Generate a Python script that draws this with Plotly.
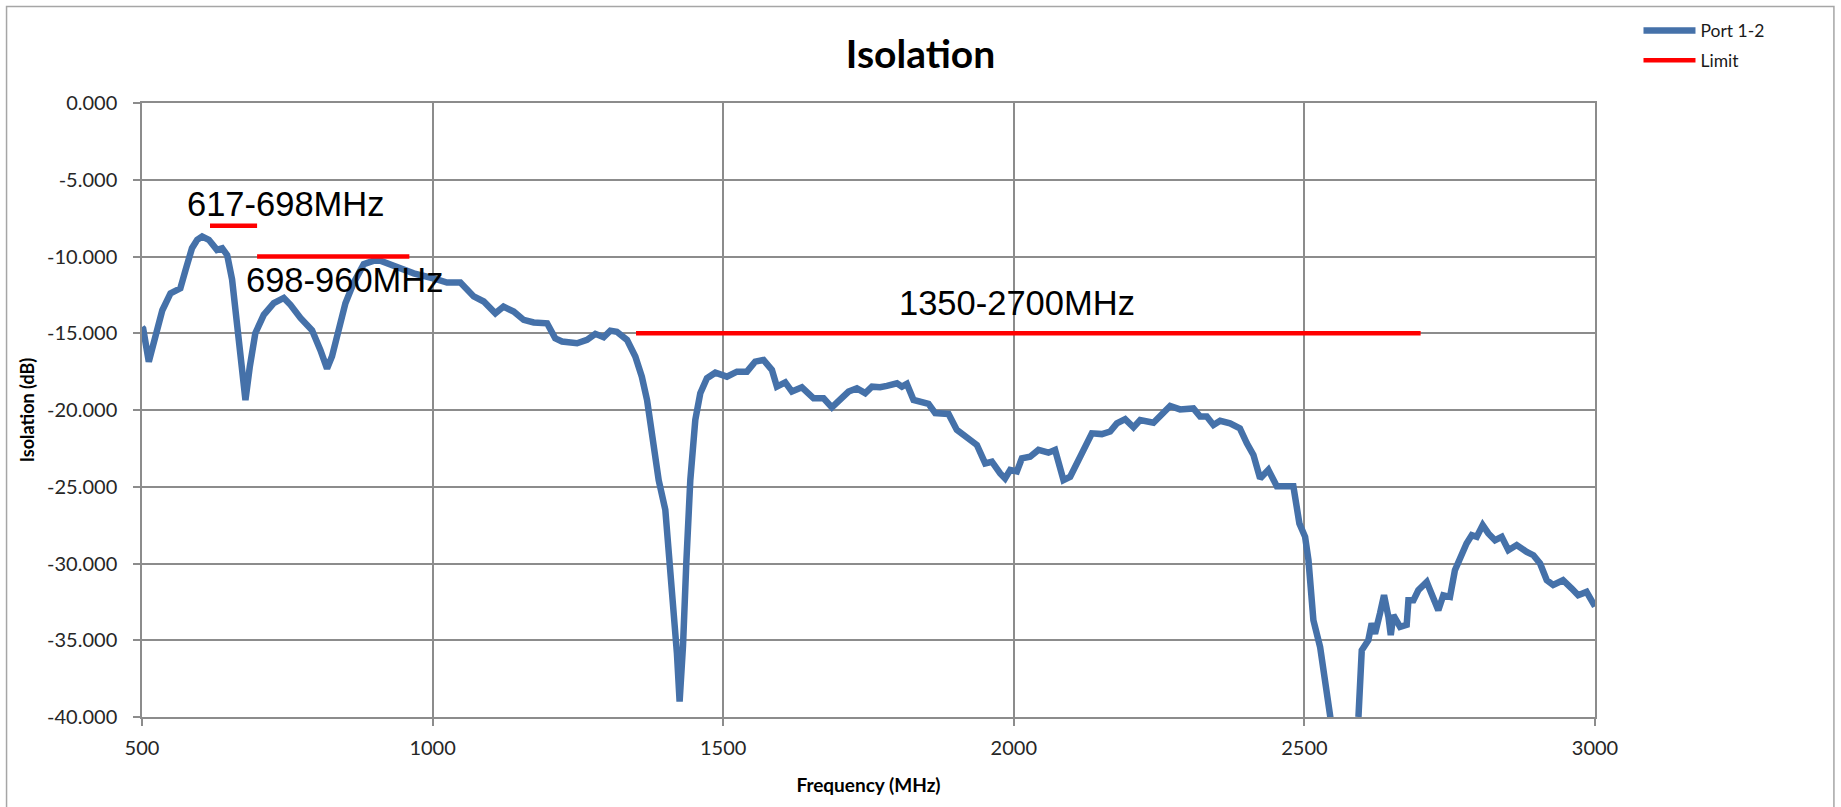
import plotly.graph_objects as go

# ---- data ----
freq_mhz = [
    500, 502, 511.7, 523, 535, 549, 566, 575, 586, 595, 603.5, 615, 629, 638, 646.5,
    655, 663.7, 670.5, 678, 685.4, 695, 709.5, 726.7, 744, 755.4, 772.6, 792.6, 807,
    818.4, 827, 838.5, 850, 864.3, 881.5, 904.4, 924.5, 944.6, 967.5, 999, 1024.8,
    1047.8, 1070.7, 1088, 1108, 1122, 1139.5, 1156.7, 1174, 1197, 1211, 1222.7, 1248.5,
    1265.7, 1280, 1294.3, 1305.8, 1317, 1334.5, 1348.8, 1360, 1369, 1377.5, 1389,
    1400.4, 1407.8, 1415.9, 1420.4, 1425, 1430.8, 1436.5, 1443.4, 1452, 1460.6, 1472,
    1486.4, 1506.4, 1523.6, 1540.8, 1555, 1569.5, 1583.8, 1592.4, 1606.8, 1618.2,
    1635.4, 1655.5, 1672.7, 1687, 1701.4, 1715.7, 1730, 1744.4, 1756, 1770, 1781.7,
    1799, 1807.5, 1816, 1827.5, 1839, 1853.3, 1864.8, 1887.7, 1902, 1919.3, 1936.5,
    1950.8, 1962.3, 1976.6, 1985, 1993.8, 2005.3, 2013.9, 2028, 2042.4, 2059.6, 2071,
    2076.8, 2085.5, 2097, 2108.5, 2120, 2134.3, 2151.5, 2165.8, 2177.3, 2191.6, 2205.9,
    2217.4, 2240.3, 2254.7, 2269, 2286, 2309, 2320.6, 2332, 2343.5, 2355, 2372, 2389,
    2401, 2412.3, 2423.8, 2438, 2452.5, 2469.7, 2481, 2491.4, 2501.2, 2507, 2515.5,
    2527, 2535.6, 2544.2, 2560, 2585, 2593, 2598.7, 2610, 2615.8, 2621.5, 2630, 2637,
    2644.6, 2648.6, 2653, 2664.6, 2676, 2679, 2687.5, 2696, 2710.5, 2722, 2730.4, 2739,
    2750.5, 2759, 2767.8, 2779, 2788, 2796.6, 2806.8, 2816.5, 2828, 2839.5, 2851,
    2865.3, 2882.5, 2894, 2905.5, 2917, 2928, 2945, 2960, 2971, 2985.5, 3000,
]
port12_db = [
    -14.6, -14.7, -16.85, -15.2, -13.5, -12.4, -12.07, -10.87, -9.46, -8.91, -8.7, -8.91,
    -9.57, -9.46, -9.9, -11.5, -14.35, -17.2, -19.35, -17.2, -15.0, -13.8, -13.04, -12.7,
    -13.15, -14.0, -14.8, -16.1, -17.3, -16.5, -14.6, -13.04, -11.7, -10.5, -10.2, -10.5,
    -10.87, -11.1, -11.4, -11.7, -11.7, -12.6, -12.93, -13.7, -13.26, -13.59, -14.13,
    -14.3, -14.35, -15.33, -15.54, -15.65, -15.43, -15.04, -15.26, -14.83, -14.9, -15.43,
    -16.52, -17.83, -19.35, -21.74, -24.57, -26.5, -30.0, -33.26, -35.87, -39.0, -35.4,
    -30.0, -24.57, -20.65, -18.9, -17.93, -17.57, -17.83, -17.5, -17.5, -16.85, -16.74,
    -17.39, -18.48, -18.2, -18.8, -18.52, -19.24, -19.24, -19.83, -19.35, -18.8, -18.59,
    -18.9, -18.48, -18.52, -18.43, -18.26, -18.48, -18.3, -19.35, -19.46, -19.6, -20.2,
    -20.26, -21.3, -21.85, -22.28, -23.48, -23.37, -24.13, -24.46, -23.9, -24.0, -23.15,
    -23.04, -22.6, -22.78, -22.6, -23.48, -24.57, -24.35, -23.48, -22.4, -21.52, -21.57,
    -21.4, -20.87, -20.6, -21.13, -20.65, -20.83, -20.33, -19.74, -19.96, -19.9, -20.43,
    -20.43, -20.98, -20.7, -20.87, -21.2, -22.17, -22.93, -24.46, -23.9, -24.96, -24.9,
    -24.96, -27.4, -28.26, -29.78, -33.7, -35.43, -37.6, -40.0, -44.0, -44.0, -40.0,
    -35.65, -35.0, -33.9, -34.57, -33.26, -32.07, -33.48, -34.67, -33.37, -34.13, -34.0,
    -32.4, -32.4, -31.74, -31.2, -32.4, -33.04, -32.07, -32.17, -30.43, -29.57, -28.7,
    -28.15, -28.26, -27.5, -28.04, -28.48, -28.26, -29.13, -28.8, -29.24, -29.46, -30.0,
    -31.09, -31.4, -31.09, -31.63, -32.07, -31.85, -32.8,
]

limit_freq = [617, 698, None, 698, 960, None, 1350, 2700]
limit_db = [-8, -8, None, -10, -10, None, -15, -15]

band_labels = ["617-698MHz", "698-960MHz", "1350-2700MHz"]
band_label_x = [748, 849, 2006]
band_label_y = [-6.6, -11.5, -13.0]

x_ticks = [500, 1000, 1500, 2000, 2500, 3000]
x_tick_text = ["500", "1000", "1500", "2000", "2500", "3000"]
y_ticks = [0, -5, -10, -15, -20, -25, -30, -35, -40]
y_tick_text = ["0.000", "-5.000", "-10.000", "-15.000", "-20.000", "-25.000",
               "-30.000", "-35.000", "-40.000"]

# ---- figure ----
W, H = 1841, 807
L, R, T, B = 141.5, 1841 - 1595, 103.4, 807 - 717.3
GRID = "#8c8c8c"
TICKFONT = dict(family="Lato, Calibri, sans-serif", size=20, color="#262626")

fig = go.Figure()
fig.add_trace(go.Scatter(
    x=freq_mhz, y=port12_db, mode="lines", name="Port 1-2",
    line=dict(color="#4571A9", width=6.5), legendgroup="a",
))
fig.add_trace(go.Scatter(
    x=limit_freq, y=limit_db, mode="lines", name="Limit",
    line=dict(color="#FF0000", width=4.5), legendgroup="b", connectgaps=False,
))

for txt, bx, by in zip(band_labels, band_label_x, band_label_y):
    fig.add_annotation(x=bx, y=by, text=txt, showarrow=False,
                       xanchor="center", yanchor="middle",
                       font=dict(family="Liberation Sans, Arial, sans-serif",
                                 size=34.5, color="#000000"))

# outer chart border
pw, ph = W - L - R, H - T - B
fig.add_shape(type="rect", xref="paper", yref="paper",
              x0=(6 - L) / pw, x1=(1834 - L) / pw,
              y0=(H - B - 812) / ph, y1=(H - B - 7) / ph,
              line=dict(color="#a6a6a6", width=1.5), fillcolor="rgba(0,0,0,0)",
              layer="below")

fig.update_layout(
    width=W, height=H,
    margin=dict(l=L, r=R, t=T, b=B, pad=0),
    paper_bgcolor="white", plot_bgcolor="white",
    title=dict(text="<b>Isolation</b>", x=0.5, xref="container", xanchor="center",
               y=1 - 54 / H, yref="container", yanchor="middle",
               font=dict(family="Lato, Calibri, sans-serif", size=39, color="#000000")),
    showlegend=True,
    legend=dict(x=(1638.5 - L) / pw, xanchor="left", y=(H - B - 13) / ph, yanchor="top",
                font=dict(family="Lato, Calibri, sans-serif", size=17.5, color="#1a1a1a"),
                bgcolor="rgba(0,0,0,0)", borderwidth=0, tracegroupgap=4,
                traceorder="grouped", itemwidth=52),
)
fig.update_xaxes(
    range=[500, 3000], tickvals=x_ticks, ticktext=x_tick_text,
    showgrid=True, gridcolor=GRID, gridwidth=1.5,
    showline=True, linecolor=GRID, linewidth=1.5, mirror=True,
    ticks="outside", ticklen=7, tickcolor=GRID, tickwidth=1.5,
    ticklabelstandoff=5, tickfont=TICKFONT, zeroline=False,
    title=dict(text="<b>Frequency (MHz)</b>", standoff=21,
               font=dict(family="Lato, Calibri, sans-serif", size=19, color="#000000")),
)
fig.update_yaxes(
    range=[-40, 0], tickvals=y_ticks, ticktext=y_tick_text,
    showgrid=True, gridcolor=GRID, gridwidth=1.5,
    showline=True, linecolor=GRID, linewidth=1.5, mirror=True,
    ticks="outside", ticklen=7, tickcolor=GRID, tickwidth=1.5,
    ticklabelstandoff=12, tickfont=TICKFONT, zeroline=False,
    title=dict(text="<b>Isolation (dB)</b>", standoff=8,
               font=dict(family="Lato, Calibri, sans-serif", size=18, color="#000000")),
)

fig.write_html("out.html", config={"displayModeBar": False},
               post_script="document.body.style.margin='0';")
